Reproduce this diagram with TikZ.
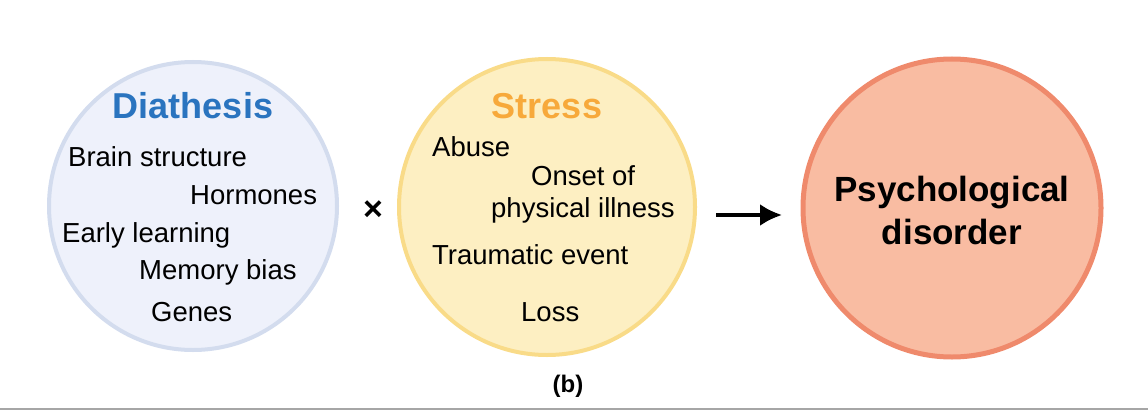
\documentclass[tikz,border=0pt]{standalone}
\usepackage{fontspec}
\setmainfont{Liberation Sans}
\usetikzlibrary{arrows.meta}
\begin{document}
\begin{tikzpicture}[x=1pt,y=-1pt,
  item/.style={anchor=west,inner sep=0pt,font=\fontsize{27.5}{30}\selectfont},
  ttl/.style={inner sep=0pt,font=\fontsize{36}{38}\selectfont\bfseries}]
\useasboundingbox (0,0) rectangle (1148,420);
\definecolor{dfill}{HTML}{EEF1FB}\definecolor{dline}{HTML}{D3DCEE}
\definecolor{sfill}{HTML}{FDEFC2}\definecolor{sline}{HTML}{F9DB88}
\definecolor{pfill}{HTML}{F9BCA2}\definecolor{pline}{HTML}{EF8A6C}
\definecolor{dblue}{HTML}{2A74BF}\definecolor{sor}{HTML}{F7A93B}
\node[circle,minimum size=288pt,fill=dfill,draw=dline,line width=4pt] (dc) at (193,206) {};
\node[circle,minimum size=296pt,fill=sfill,draw=sline,line width=4pt] (sc) at (547,207) {};
\node[circle,minimum size=298pt,fill=pfill,draw=pline,line width=5pt] (pc) at (952,208) {};
\node[ttl,text=dblue] (dt) at (193,106) {Diathesis};
\node[item] (d1) at (68,157) {Brain structure};
\node[item] (d2) at (190,195) {Hormones};
\node[item] (d3) at (62,235) {Early learning};
\node[item] (d4) at (139,272) {Memory bias};
\node[item] (d5) at (151,312) {Genes};
\node[inner sep=0pt,font=\fontsize{34}{36}\selectfont\bfseries] (x) at (373,211) {×};
\node[ttl,text=sor] (st) at (547,106) {Stress};
\node[item] (s1) at (432,147) {Abuse};
\node[item] (s2) at (531,176) {Onset of};
\node[item] (s3) at (491,210) {physical illness};
\node[item] (s4) at (432,255) {Traumatic event};
\node[item] (s5) at (521,312) {Loss};
\node[ttl,align=center,font=\fontsize{35}{43}\selectfont\bfseries] (pt) at (952,210) {Psychological\\disorder};
\coordinate (a1) at (716,215);
\coordinate (a2) at (782,215);
\draw[line width=3.5pt,-{Latex[length=22pt,width=22pt]}] (a1) -- (a2);
\node[inner sep=0pt,font=\fontsize{24}{26}\selectfont\bfseries] (b) at (568,386) {(b)};
\coordinate (l1) at (0,409); \coordinate (l2) at (1148,409);
\draw[gray!70,line width=1.2pt] (l1) -- (l2);
\end{tikzpicture}
\end{document}
